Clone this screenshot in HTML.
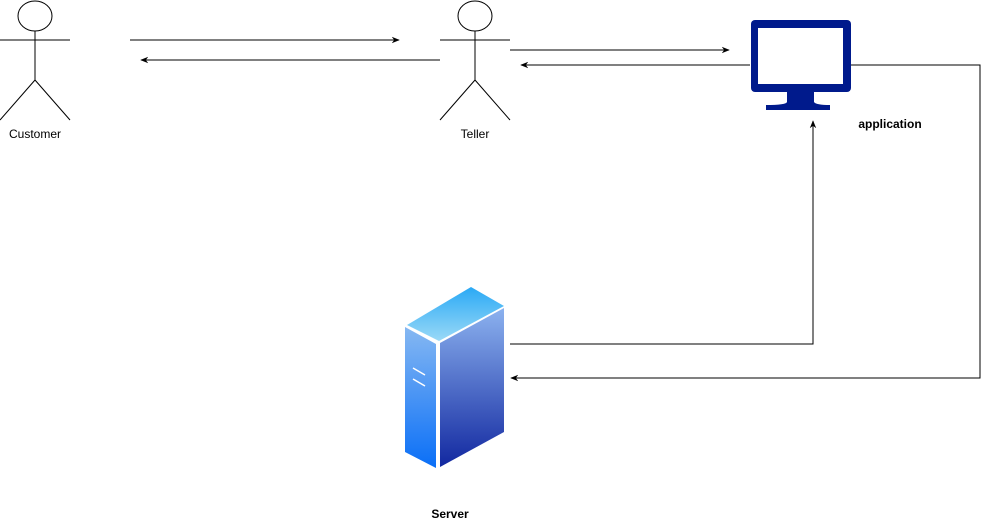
<!DOCTYPE html>
<html><head><style>body{margin:0;background:#fff}svg{display:block}</style></head><body>
<svg width="989" height="531" viewBox="0 0 989 531" xmlns="http://www.w3.org/2000/svg" font-family="Liberation Sans, sans-serif">
<defs>
<marker id="a" viewBox="0 0 10 10" refX="9" refY="5" markerWidth="8" markerHeight="8" orient="auto" markerUnits="userSpaceOnUse"><path d="M0,1 L10,5 L0,9 L3,5 Z" fill="#000"/></marker>
<linearGradient id="g1" x1="0" y1="0" x2="0" y2="1"><stop offset="0" stop-color="#2aa9f5"/><stop offset="1" stop-color="#9ad9f7"/></linearGradient>
<linearGradient id="g2" x1="0" y1="0" x2="0" y2="1"><stop offset="0" stop-color="#86b8f2"/><stop offset="1" stop-color="#0a6ff7"/></linearGradient>
<linearGradient id="g3" x1="0" y1="0" x2="0" y2="1"><stop offset="0" stop-color="#8cb2ef"/><stop offset="1" stop-color="#1228a0"/></linearGradient>
</defs>
<g fill="none" stroke="#000" stroke-width="1">
<ellipse cx="35" cy="16" rx="17" ry="15" fill="#fff"/>
<path d="M35 31V80M0 40H70M35 80L0 120M35 80L70 120"/>
<ellipse cx="475" cy="16" rx="17" ry="15" fill="#fff"/>
<path d="M475 31V80M440 40H510M475 80L440 120M475 80L510 120"/>
<path d="M130 40H399" marker-end="url(#a)"/>
<path d="M440 60H141" marker-end="url(#a)"/>
<path d="M510 50H729" marker-end="url(#a)"/>
<path d="M750 65H521" marker-end="url(#a)"/>
<path d="M850 65H980V378H511" marker-end="url(#a)"/>
<path d="M510 344H813V121" marker-end="url(#a)"/>
</g>
<text x="35" y="138" font-size="12" text-anchor="middle">Customer</text>
<text x="475" y="138" font-size="12" text-anchor="middle">Teller</text>
<rect x="751" y="20" width="100" height="72" rx="4" fill="#001a8c"/>
<rect x="758" y="28" width="85" height="56" fill="#fff"/>
<path d="M787 91H814V102Q816 105 830 105V110H766V105Q786 105 787 102Z" fill="#001a8c"/>
<text x="890" y="128" font-size="12" font-weight="bold" text-anchor="middle">application</text>
<polygon points="407,325 471,287 504,306 439,341" fill="url(#g1)"/>
<polygon points="405,327 436,344 436,468 405,452" fill="url(#g2)"/>
<polygon points="440,343 504,308 504,432 440,467" fill="url(#g3)"/>
<path d="M413 368L425 375M413 379L425 386" stroke="#fff" stroke-width="1.5"/>
<text x="450" y="518" font-size="12" font-weight="bold" text-anchor="middle">Server</text>
</svg>
</body></html>
